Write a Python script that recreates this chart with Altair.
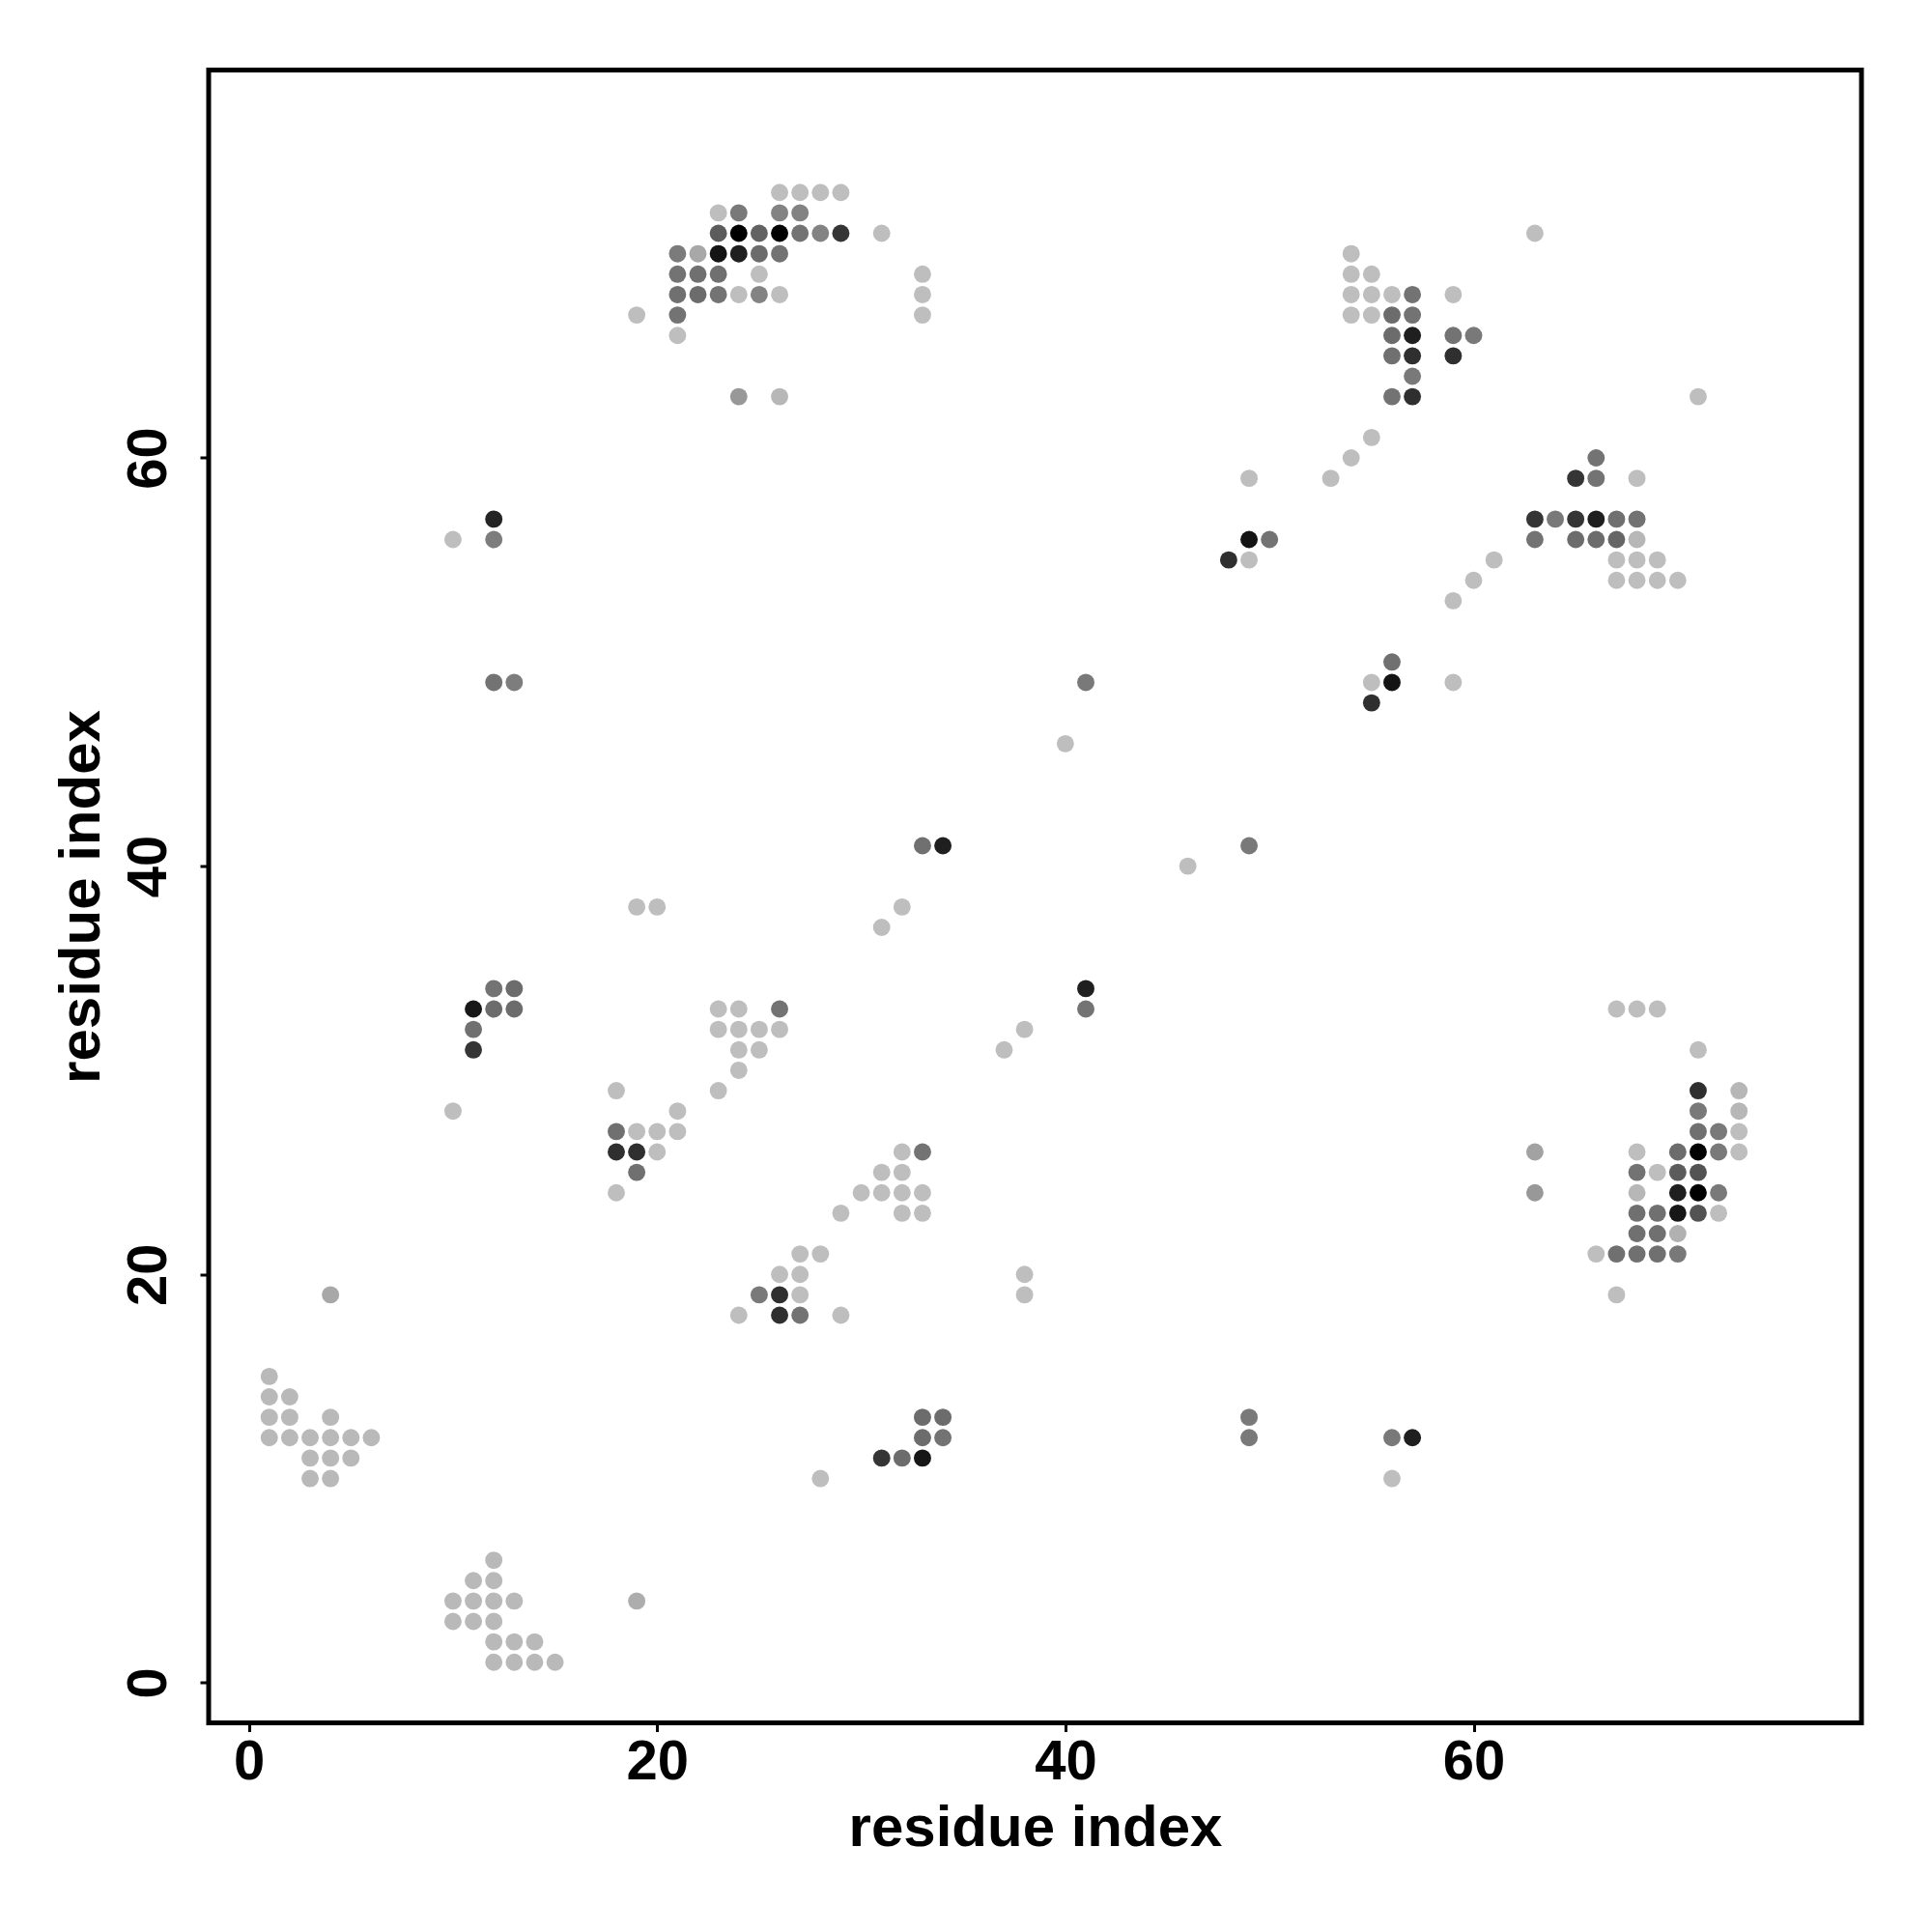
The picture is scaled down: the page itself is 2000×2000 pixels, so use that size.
import altair as alt
import pandas as pd

# residue pairs (x, y) and contact strength (0 = light grey, 1 = black)
xs = [26,27,28,29, 23,24,26,27, 23,24,25,26,27,28,29,31, 21,22,23,24,25,26,
      21,22,23,25,33, 21,22,23,24,25,26,33, 19,21,33, 21, 24,26,
      54, 54,55, 54,55,56,57,59, 54,55,56,57, 56,57,59,60, 56,57,59, 57, 56,57,
      55,54,53,49, 49,50, 48,49, 59,
      63,71, 66, 65,66,68, 63,64,65,66,67,68, 63,65,66,67,68, 61,67,68,69, 60,67,68,69,70,
      12,10,12,
      12,13,12,13,11,12,13,11,11,10,
      33,34,19,20,32,31,23,24,26,23,24,25,26,38,24,25,37,24,23,18,21,18,19,20,21,18,19,20,32,33,19,31,32,
      56,41,55,56,59,55,40,49,46,41,41,
      67,68,69,71,71,73,71,73,71,72,73,
      63,68,70,71,72,73, 68,69,70,71, 63,68,70,71,72, 68,69,70,71,72, 68,69,70, 66,67,68,69,70, 67,
      18,4,1,1,2,1,2,4,1,2,3,4,5,6,3,4,5,3,4,12,11,12,10,11,12,13,10,11,12,12,13,14,12,13,14,15,
      30,31,32,33,29,32,33,27,28,26,27,38,25,26,27,38,24,26,27,29,33,34,33,34,31,32,33,28,19,
      49,49,56,57,56]
ys = [73,73,73,73, 72,72,72,72, 71,71,71,71,71,71,71,71, 70,70,70,70,70,70,
      69,69,69,69,69, 68,68,68,68,68,68,68, 67,67,67, 66, 63,63,
      70, 69,69, 68,68,68,68,68, 67,67,67,67, 66,66,66,66, 65,65,65, 64, 63,63,
      61,60,59,59, 56,56, 55,55, 53,
      71,63, 60, 59,59,59, 57,57,57,57,57,57, 56,56,56,56,56, 55,55,55,55, 54,54,54,54,54,
      57,56,56,
      49,49,34,34,33,33,33,32,31,28,
      41,41,38,38,38,37,33,33,33,32,32,32,32,32,31,31,31,30,29,29,28,27,27,27,27,26,26,26,26,26,25,25,25,
      50,49,49,49,49,48,46,41,40,34,33,
      33,33,33,31,29,29,28,28,27,27,27,
      26,26,26,26,26,26, 25,25,25,25, 24,24,24,24,24, 23,23,23,23,23, 22,22,22, 21,21,21,21,21, 19,
      24,19,15,14,14,13,13,13,12,12,12,12,12,12,11,11,11,10,10,6,5,5,4,4,4,4,3,3,3,2,2,2,1,1,1,1,
      24,24,24,24,23,23,23,21,21,20,20,20,19,19,19,19,18,18,18,18,13,13,12,12,11,11,11,10,4,
      13,12,12,12,10]
strength = [0.02,0.02,0.02,0.02, 0.02,0.35,0.3,0.3, 0.5,1.0,0.47,1.0,0.38,0.3,0.72,0.02, 0.34,0.12,0.92,0.85,0.42,0.38,
            0.38,0.4,0.4,0.02,0.02, 0.4,0.42,0.38,0.02,0.3,0.02,0.02, 0.02,0.38,0.02, 0.02, 0.2,0.05,
            0.02, 0.02,0.02, 0.02,0.02,0.02,0.38,0.02, 0.02,0.02,0.42,0.38, 0.42,0.85,0.38,0.35, 0.4,0.75,0.75, 0.35, 0.38,0.75,
            0.02,0.02,0.02,0.02, 0.92,0.38, 0.75,0.02, 0.02,
            0.02,0.02, 0.38, 0.72,0.38,0.02, 0.72,0.35,0.72,0.85,0.4,0.38, 0.38,0.42,0.42,0.45,0.05, 0.02,0.02,0.02,0.02, 0.02,0.02,0.02,0.02,0.02,
            0.82,0.02,0.33,
            0.38,0.33,0.38,0.42,0.9,0.42,0.42,0.4,0.72,0.02,
            0.4,0.85,0.02,0.02,0.02,0.02,0.02,0.02,0.38,0.02,0.02,0.02,0.02,0.02,0.02,0.02,0.02,0.02,0.02,0.02,0.02,0.4,0.02,0.02,0.02,0.75,0.75,0.02,0.02,0.38,0.4,0.02,0.02,
            0.4,0.35,0.02,0.92,0.02,0.75,0.02,0.35,0.02,0.85,0.38,
            0.02,0.02,0.02,0.02,0.75,0.05,0.35,0.05,0.4,0.35,0.02,
            0.15,0.02,0.42,1.0,0.35,0.02, 0.38,0.02,0.5,0.55, 0.2,0.05,0.85,1.0,0.35, 0.4,0.4,0.9,0.55,0.02, 0.4,0.4,0.08, 0.02,0.4,0.4,0.4,0.35, 0.02,
            0.02,0.12,0.04,0.04,0.04,0.04,0.04,0.04,0.04,0.04,0.04,0.04,0.04,0.04,0.04,0.04,0.04,0.04,0.04,0.04,0.04,0.04,0.04,0.04,0.04,0.04,0.04,0.04,0.04,0.04,0.04,0.04,0.04,0.04,0.04,0.04,
            0.02,0.02,0.02,0.02,0.02,0.02,0.02,0.02,0.02,0.02,0.02,0.02,0.35,0.75,0.02,0.02,0.02,0.75,0.38,0.02,0.42,0.42,0.42,0.38,0.72,0.42,0.9,0.02,0.1,
            0.35,0.35,0.35,0.85,0.02]

tick_values = [0, 20, 40, 60]

df = pd.DataFrame({"x": xs, "y": ys, "p": strength})

FONT = "Liberation Sans"
dom = [-1.97, 79.0]

chart = alt.Chart(df).mark_circle(size=320, opacity=1).encode(
    x=alt.X("x:Q", title="residue index",
            scale=alt.Scale(domain=dom, nice=False, zero=False),
            axis=alt.Axis(values=tick_values, labelBaseline="alphabetic", labelPadding=49,
                          titleBaseline="alphabetic", titleY=127, titleX=855.5)),
    y=alt.Y("y:Q", title="residue index",
            scale=alt.Scale(domain=dom, nice=False, zero=False),
            axis=alt.Axis(values=tick_values, labelAngle=-90, labelAlign="center",
                          labelBaseline="alphabetic", labelPadding=36,
                          titleAngle=-90, titleAlign="center", titleBaseline="alphabetic",
                          titleX=-114, titleY=855.5)),
    color=alt.Color("p:Q", scale=alt.Scale(domain=[0, 1], range=["#c2c2c2", "#000000"]), legend=None),
).properties(
    width=1711, height=1711,
    autosize=alt.AutoSizeParams(type="none"),
    padding={"left": 208, "top": 64.5, "right": 60, "bottom": 200},
).configure_view(
    stroke="black", strokeWidth=5
).configure_axis(
    grid=False, domain=False, ticks=True, tickSize=9, tickWidth=3, tickColor="black",
    labelFont=FONT, labelFontSize=58, labelFontWeight="bold", labelColor="black",
    titleFont=FONT, titleFontSize=60, titleFontWeight="bold", titleColor="black",
    labelOverlap=False, labelFlush=False,
)

chart.save("out.html", embed_options={"renderer": "svg", "actions": False})
